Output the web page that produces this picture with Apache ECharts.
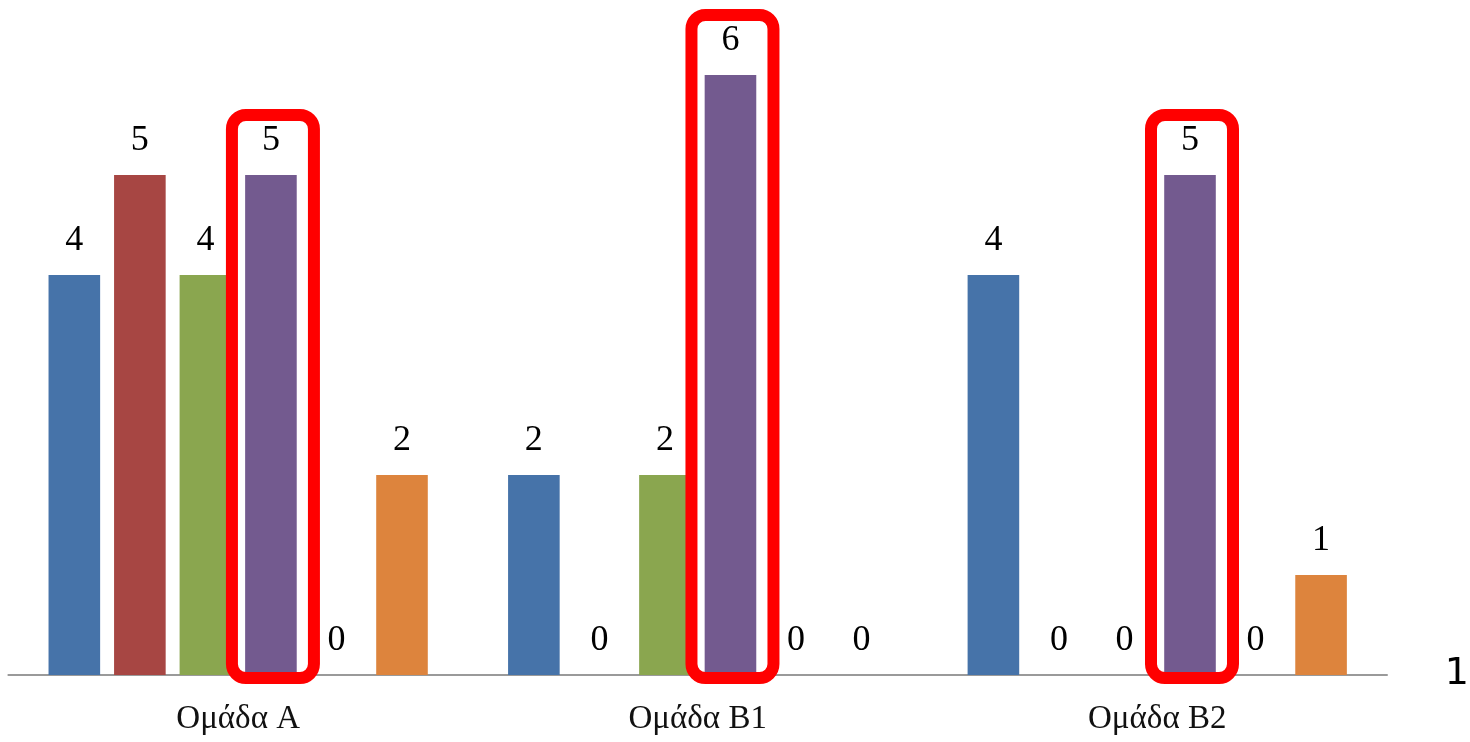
<!DOCTYPE html>
<html>
<head>
<meta charset="utf-8">
<script src="https://cdn.jsdelivr.net/npm/echarts@6/dist/echarts.min.js"></script>
<style>
html,body{margin:0;padding:0;background:#fff;}
#chart{width:1470px;height:742px;}
</style>
</head>
<body>
<div id="chart"></div>
<script>
const categories = ['Ομάδα A', 'Ομάδα B1', 'Ομάδα B2'];
const series1 = [4, 2, 4];
const series2 = [5, 0, 0];
const series3 = [4, 2, 0];
const series4 = [5, 6, 5];
const series5 = [0, 0, 0];
const series6 = [2, 0, 1];
const highlighted = [[0, 5], [1, 6], [2, 5]]; // purple bars circled in red
const pageNumber = '1';

const colors = ['#4673A9', '#A74643', '#8AA64F', '#735A8F', '#3FA0B8', '#DD843D'];
const BAR_W = 51.6;
const BAR_GAP = 0.27;
const N_SERIES = 6;
const HL_INDEX = 3;

const labelStyle = {
  show: true, position: 'top', distance: 16,
  fontFamily: 'Liberation Serif', fontSize: 36, color: '#000'
};

function barSeries(data, i) {
  return {
    type: 'bar', data: data, barWidth: BAR_W, barGap: (BAR_GAP * 100) + '%',
    itemStyle: { color: colors[i] }, label: labelStyle, z: 2
  };
}

const chart = echarts.init(document.getElementById('chart'), null, { renderer: 'canvas' });
chart.setOption({
  animation: false,
  backgroundColor: '#fff',
  grid: { left: 8.4, right: 83, top: 0, bottom: 67, containLabel: false },
  xAxis: {
    type: 'category', data: categories,
    axisLine: { lineStyle: { color: '#9a9a9a', width: 2 } },
    axisTick: { show: false },
    axisLabel: { fontFamily: 'Liberation Serif', fontSize: 33, color: '#111', margin: 28 }
  },
  yAxis: {
    type: 'value', min: 0, max: 6.75, show: false,
    splitLine: { show: false }
  },
  graphic: [{
    type: 'text', right: 1, top: 655,
    style: { text: pageNumber, fontFamily: 'DejaVu Sans', fontSize: 38, fill: '#000' }
  }],
  series: [
    barSeries(series1, 0), barSeries(series2, 1), barSeries(series3, 2),
    barSeries(series4, 3), barSeries(series5, 4), barSeries(series6, 5),
    {
      type: 'custom', z: 5, silent: true,
      data: highlighted,
      renderItem: function (params, api) {
        const idx = api.value(0);
        const top = api.coord([idx, api.value(1)]);
        const base = api.coord([idx, 0]);
        const step = BAR_W * (1 + BAR_GAP);
        const cx = top[0] + (HL_INDEX - (N_SERIES - 1) / 2) * step + 2;
        const w = 82;
        const y0 = top[1] - 60;
        const y1 = base[1] + 3;
        return {
          type: 'rect',
          shape: { x: cx - w / 2, y: y0, width: w, height: y1 - y0, r: 14 },
          style: { fill: null, stroke: '#FF0000', lineWidth: 12 }
        };
      }
    }
  ]
});
</script>
</body>
</html>
